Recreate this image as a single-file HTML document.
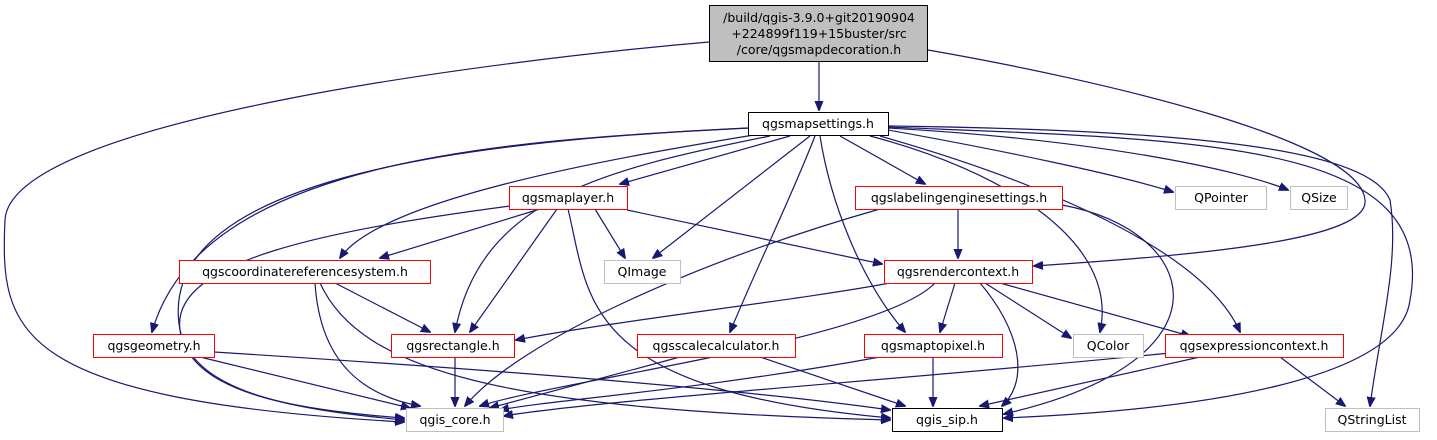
<!DOCTYPE html>
<html><head><meta charset="utf-8"><style>
body{margin:0;background:#fff;width:1437px;height:440px;overflow:hidden}
svg{display:block}
text{font-family:"DejaVu Sans","Liberation Sans",sans-serif;font-size:12.5px;fill:#000}
.e{fill:none;stroke:#191970;stroke-width:1.2}
</style></head><body>
<svg width="1437" height="440" viewBox="0 0 1437 440" xmlns="http://www.w3.org/2000/svg">
<defs><marker id="a" viewBox="0 0 10 10" refX="9" refY="5" markerWidth="10" markerHeight="10" markerUnits="userSpaceOnUse" orient="auto"><path d="M0,1 L10,5 L0,9 z" fill="#191970" stroke="#191970"/></marker></defs>
<g class="e" marker-end="url(#a)">
<path d="M819,62 L819,110"/>
<path d="M709,42 C500,60 10,120 5,220 C0,330 10,400 404,422"/>
<path d="M928,50 C1100,80 1360,140 1365,200 C1370,240 1200,255 1034,266"/>
<!-- from mapsettings -->
<path d="M790,136 L620,184"/>
<path d="M760,134 C600,160 380,200 340,258"/>
<path d="M750,128 C500,140 200,160 152,332"/>
<path d="M770,136 C600,170 480,200 455,332"/>
<path d="M810,136 L653,258"/>
<path d="M815,136 C790,200 760,260 730,332"/>
<path d="M820,136 C830,200 860,280 905,332"/>
<path d="M840,136 L925,184"/>
<path d="M870,136 C1000,170 1120,240 1100,332"/>
<path d="M880,136 C1000,170 1200,240 1240,332"/>
<path d="M888,130 C1000,150 1120,175 1173,192"/>
<path d="M888,128 C1100,140 1240,170 1288,190"/>
<path d="M888,126 C1200,130 1370,150 1390,200 C1400,260 1380,330 1370,406"/>
<path d="M888,127 C1200,140 1440,140 1410,300 C1400,380 1200,410 1004,418"/>
<path d="M748,128 C500,140 150,170 180,330 C190,395 300,410 404,418"/>
<!-- maplayer -->
<path d="M540,209 L380,258"/>
<path d="M595,209 L625,258"/>
<path d="M627,210 L882,264"/>
<path d="M557,209 L470,332"/>
<path d="M510,206 C330,230 170,260 180,330 C195,395 300,410 404,420"/>
<path d="M568,209 C590,300 580,390 890,418"/>
<!-- labeling -->
<path d="M958,209 L958,258"/>
<path d="M880,209 C700,260 520,340 465,406"/>
<path d="M1062,205 C1200,230 1240,360 1004,414"/>
<!-- crs -->
<path d="M335,283 L430,332"/>
<path d="M315,283 C320,360 360,395 420,406"/>
<path d="M320,283 C360,370 500,410 890,420"/>
<!-- rendercontext -->
<path d="M890,283 C800,300 620,320 516,340"/>
<path d="M955,283 L940,332"/>
<path d="M985,283 L1071,338"/>
<path d="M1000,283 L1190,336"/>
<path d="M980,283 C1020,330 1030,380 1002,406"/>
<path d="M935,283 C880,340 560,380 480,406"/>
<!-- geometry -->
<path d="M200,357 L410,408"/>
<path d="M214,352 C500,370 750,390 890,410"/>
<!-- rectangle -->
<path d="M455,357 L455,406"/>
<!-- scalecalc -->
<path d="M680,357 L490,408"/>
<path d="M760,357 L905,406"/>
<!-- maptopixel -->
<path d="M933,357 L933,406"/>
<path d="M880,357 C700,390 550,400 500,410"/>
<!-- expression -->
<path d="M1200,357 L980,406"/>
<path d="M1170,353 C900,380 600,400 504,416"/>
<path d="M1280,357 L1345,406"/>
</g>
<g stroke-width="1">
<rect x="709.5" y="5.5" width="218" height="56" fill="#bfbfbf" stroke="#000"/>
<rect x="748.5" y="112.5" width="140" height="23" fill="#fff" stroke="#000"/>
<rect x="509.5" y="186.5" width="118" height="23" fill="#fff" stroke="#f00"/>
<rect x="855.5" y="186.5" width="207" height="23" fill="#fff" stroke="#f00"/>
<rect x="1175.5" y="186.5" width="91" height="23" fill="#fff" stroke="#bfbfbf"/>
<rect x="1290.5" y="186.5" width="57" height="23" fill="#fff" stroke="#bfbfbf"/>
<rect x="179.5" y="260.5" width="251" height="23" fill="#fff" stroke="#f00"/>
<rect x="604.5" y="260.5" width="76" height="23" fill="#fff" stroke="#bfbfbf"/>
<rect x="884.5" y="260.5" width="148" height="23" fill="#fff" stroke="#f00"/>
<rect x="93.5" y="334.5" width="121" height="23" fill="#fff" stroke="#f00"/>
<rect x="391.5" y="334.5" width="123" height="23" fill="#fff" stroke="#f00"/>
<rect x="637.5" y="334.5" width="158" height="23" fill="#fff" stroke="#f00"/>
<rect x="864.5" y="334.5" width="138" height="23" fill="#fff" stroke="#f00"/>
<rect x="1073.5" y="334.5" width="70" height="23" fill="#fff" stroke="#bfbfbf"/>
<rect x="1165.5" y="334.5" width="178" height="23" fill="#fff" stroke="#f00"/>
<rect x="406.5" y="408.5" width="97" height="23" fill="#fff" stroke="#bfbfbf"/>
<rect x="892.5" y="408.5" width="110" height="23" fill="#fff" stroke="#000"/>
<rect x="1325.5" y="408.5" width="94" height="23" fill="#fff" stroke="#bfbfbf"/>
</g>
<g text-anchor="middle">
<text x="819" y="22">/build/qgis-3.9.0+git20190904</text>
<text x="819" y="38">+224899f119+15buster/src</text>
<text x="819" y="54">/core/qgsmapdecoration.h</text>
<text x="818" y="128">qgsmapsettings.h</text>
<text x="568" y="202">qgsmaplayer.h</text>
<text x="959" y="202">qgslabelingenginesettings.h</text>
<text x="1221" y="202">QPointer</text>
<text x="1319" y="202">QSize</text>
<text x="305" y="276">qgscoordinatereferencesystem.h</text>
<text x="642" y="276">QImage</text>
<text x="958" y="276">qgsrendercontext.h</text>
<text x="154" y="350">qgsgeometry.h</text>
<text x="453" y="350">qgsrectangle.h</text>
<text x="716" y="350">qgsscalecalculator.h</text>
<text x="933" y="350">qgsmaptopixel.h</text>
<text x="1108" y="350">QColor</text>
<text x="1254" y="350">qgsexpressioncontext.h</text>
<text x="455" y="424">qgis_core.h</text>
<text x="947" y="424">qgis_sip.h</text>
<text x="1372" y="424">QStringList</text>
</g>
</svg>
</body></html>
